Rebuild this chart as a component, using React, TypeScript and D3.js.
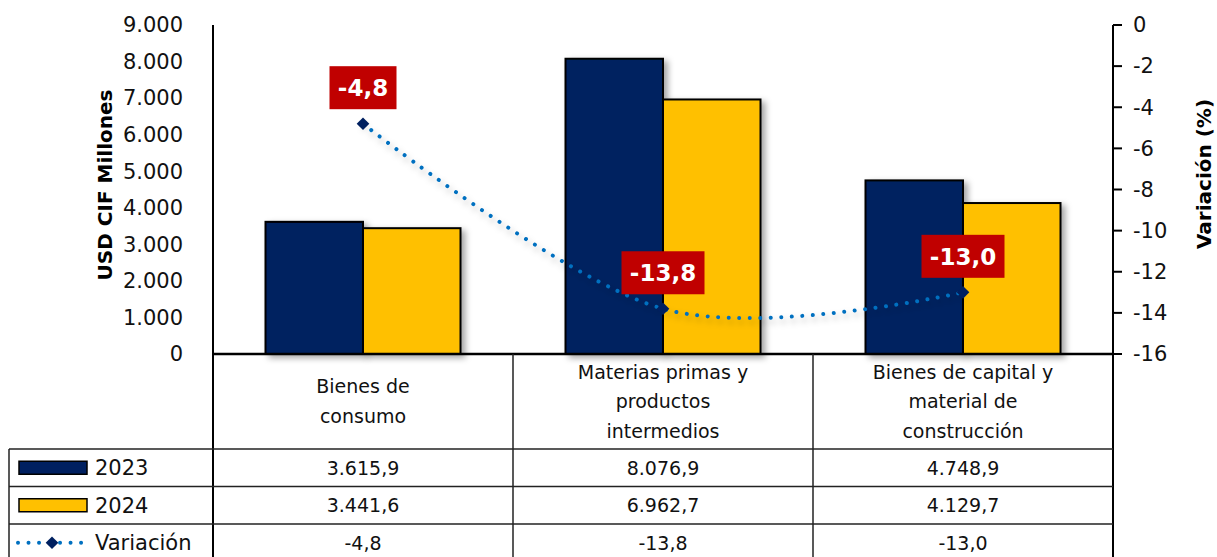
import React from 'react';
import * as d3 from 'd3';

const categories = [
  ['Bienes de', 'consumo'],
  ['Materias primas y', 'productos', 'intermedios'],
  ['Bienes de capital y', 'material de', 'construcción'],
];
const values2023 = [3615.9, 8076.9, 4748.9];
const values2024 = [3441.6, 6962.7, 4129.7];
const variacion = [-4.8, -13.8, -13.0];
const seriesNames = ['2023', '2024', 'Variación'];
const leftTicks = [0, 1000, 2000, 3000, 4000, 5000, 6000, 7000, 8000, 9000];
const rightTicks = [0, -2, -4, -6, -8, -10, -12, -14, -16];

const W = 1217;
const H = 557;
const plotL = 213;
const plotR = 1113;
const plotT = 25;
const plotB = 354;
const tableL = 9;
const rowH = 37.5;
const rowTop = 449;

const NAVY = '#002060';
const GOLD = '#FFC000';
const LINE = '#0070C0';
const RED = '#C00000';
const FONT = '"DejaVu Sans", sans-serif';

const es = d3.formatLocale({ decimal: ',', thousands: '.', grouping: [3], currency: ['', ''], minus: '-' });
const fmtInt = es.format(',');
const fmt1 = es.format(',.1f');

export default function App() {
  const idx = categories.map((_, i) => i);
  const col = d3.scaleBand<number>().domain(idx).range([plotL, plotR]);
  const band = d3.scaleBand<number>().domain(idx).range([plotL, plotR]).paddingInner(0.35).paddingOuter(0.175);
  const sub = d3.scaleBand<string>().domain(['2023', '2024']).range([0, band.bandwidth()]);
  const yL = d3.scaleLinear().domain([0, 9000]).range([plotB, plotT]);
  const yR = d3.scaleLinear().domain([-16, 0]).range([plotB, plotT]);
  const cx = (i: number) => (col(i) as number) + col.bandwidth() / 2;

  const line = d3.line<number>()
    .x((_, i) => cx(i))
    .y(d => yR(d))
    .curve(d3.curveCardinal.tension(0));

  const diamond = d3.symbol().type(d3.symbolSquare).size(80)();

  const rows = [
    { name: seriesNames[0], vals: values2023 },
    { name: seriesNames[1], vals: values2024 },
    { name: seriesNames[2], vals: variacion },
  ];

  return (
    <svg width={W} height={H} style={{ position: 'absolute', left: 0, top: 0, background: '#fff' }} fontFamily={FONT}>
      <defs>
        <filter id="shadow" x="-20%" y="-20%" width="150%" height="150%">
          <feDropShadow dx="4" dy="3" stdDeviation="3" floodColor="#000" floodOpacity="0.35" />
        </filter>
        <filter id="lshadow" x="-10%" y="-50%" width="120%" height="200%">
          <feDropShadow dx="2" dy="4" stdDeviation="3" floodColor="#000" floodOpacity="0.3" />
        </filter>
      </defs>

      {/* bars */}
      {idx.map(i => (
        <g key={i} transform={`translate(${band(i)},0)`}>
          <rect x={sub('2023')} y={yL(values2023[i])} width={sub.bandwidth()} height={plotB - yL(values2023[i])}
            fill={NAVY} stroke="#000" strokeWidth={2} filter="url(#shadow)" />
          <rect x={sub('2024')} y={yL(values2024[i])} width={sub.bandwidth()} height={plotB - yL(values2024[i])}
            fill={GOLD} stroke="#000" strokeWidth={2} filter="url(#shadow)" />
        </g>
      ))}

      {/* variation line */}
      <path d={line(variacion) || ''} fill="none" stroke={LINE} strokeWidth={4} strokeLinecap="round"
        strokeDasharray="0.01 10.5" filter="url(#lshadow)" />
      {variacion.map((v, i) => (
        <path key={i} d={diamond || ''} transform={`translate(${cx(i)},${yR(v)}) rotate(45)`} fill={NAVY} />
      ))}
      {variacion.map((v, i) => {
        const t = fmt1(v);
        const w = t.length * 16 + 3;
        return (
          <g key={'l' + i} transform={`translate(${cx(i)},${yR(v) - 36})`}>
            <rect x={-w / 2} y={-21.5} width={w} height={43} fill={RED} />
            <text textAnchor="middle" dy="0.36em" fill="#fff" fontWeight="bold" fontSize={23}>{t}</text>
          </g>
        );
      })}

      {/* left axis */}
      <line x1={plotL} x2={plotL} y1={plotT} y2={H} stroke="#000" strokeWidth={2} />
      {leftTicks.map(t => (
        <text key={t} x={183} y={yL(t)} textAnchor="end" dy="0.35em" fontSize={21} fill="#111">{fmtInt(t)}</text>
      ))}
      <text transform={`translate(112,185) rotate(-90)`} textAnchor="middle" fontWeight="bold" fontSize={20}>USD CIF Millones</text>

      {/* right axis */}
      <line x1={plotR} x2={plotR} y1={plotT} y2={H} stroke="#000" strokeWidth={2} />
      {rightTicks.map(t => (
        <g key={t}>
          <line x1={plotR} x2={plotR + 9} y1={yR(t)} y2={yR(t)} stroke="#000" strokeWidth={2} />
          <text x={1133} y={yR(t)} dy="0.35em" fontSize={21} fill="#111">{t === 0 ? '0' : fmtInt(t)}</text>
        </g>
      ))}
      <text transform={`translate(1211,174) rotate(-90)`} textAnchor="middle" fontWeight="bold" fontSize={20}>Variación (%)</text>

      {/* baseline */}
      <line x1={plotL} x2={plotR} y1={plotB} y2={plotB} stroke="#000" strokeWidth={2.5} />

      {/* data table */}
      {idx.slice(1).map(i => (
        <line key={'v' + i} x1={col(i)} x2={col(i)} y1={plotB} y2={H} stroke="#222" strokeWidth={1.5} />
      ))}
      <line x1={tableL} x2={tableL} y1={rowTop} y2={H} stroke="#222" strokeWidth={1.5} />
      {rows.map((_, r) => (
        <line key={'h' + r} x1={tableL} x2={plotR} y1={rowTop + r * rowH} y2={rowTop + r * rowH} stroke="#222" strokeWidth={1.5} />
      ))}
      {categories.map((lines, i) => (
        <text key={'c' + i} x={cx(i)} textAnchor="middle" fontSize={19} fill="#111">
          {lines.map((s, k) => (
            <tspan key={k} x={cx(i)} y={(plotB + rowTop) / 2 + (k - (lines.length - 1) / 2) * 29.5} dy="0.35em">{s}</tspan>
          ))}
        </text>
      ))}
      {rows.map((row, r) => {
        const yc = rowTop + r * rowH + rowH / 2;
        return (
          <g key={'r' + r}>
            {r < 2 ? (
              <rect x={19} y={yc - 6.5} width={68} height={13} fill={r === 0 ? NAVY : GOLD} stroke="#000" strokeWidth={1.5} />
            ) : (
              <g>
                <line x1={18} x2={88} y1={yc} y2={yc} stroke={LINE} strokeWidth={4} strokeLinecap="round" strokeDasharray="0.01 10.5" />
                <path d={diamond || ''} transform={`translate(52,${yc}) rotate(45)`} fill={NAVY} />
              </g>
            )}
            <text x={95} y={yc} dy="0.36em" fontSize={21} fill="#111">{row.name}</text>
            {row.vals.map((v, i) => (
              <text key={i} x={cx(i)} y={yc} dy="0.36em" textAnchor="middle" fontSize={19} fill="#111">{fmt1(v)}</text>
            ))}
          </g>
        );
      })}
    </svg>
  );
}
